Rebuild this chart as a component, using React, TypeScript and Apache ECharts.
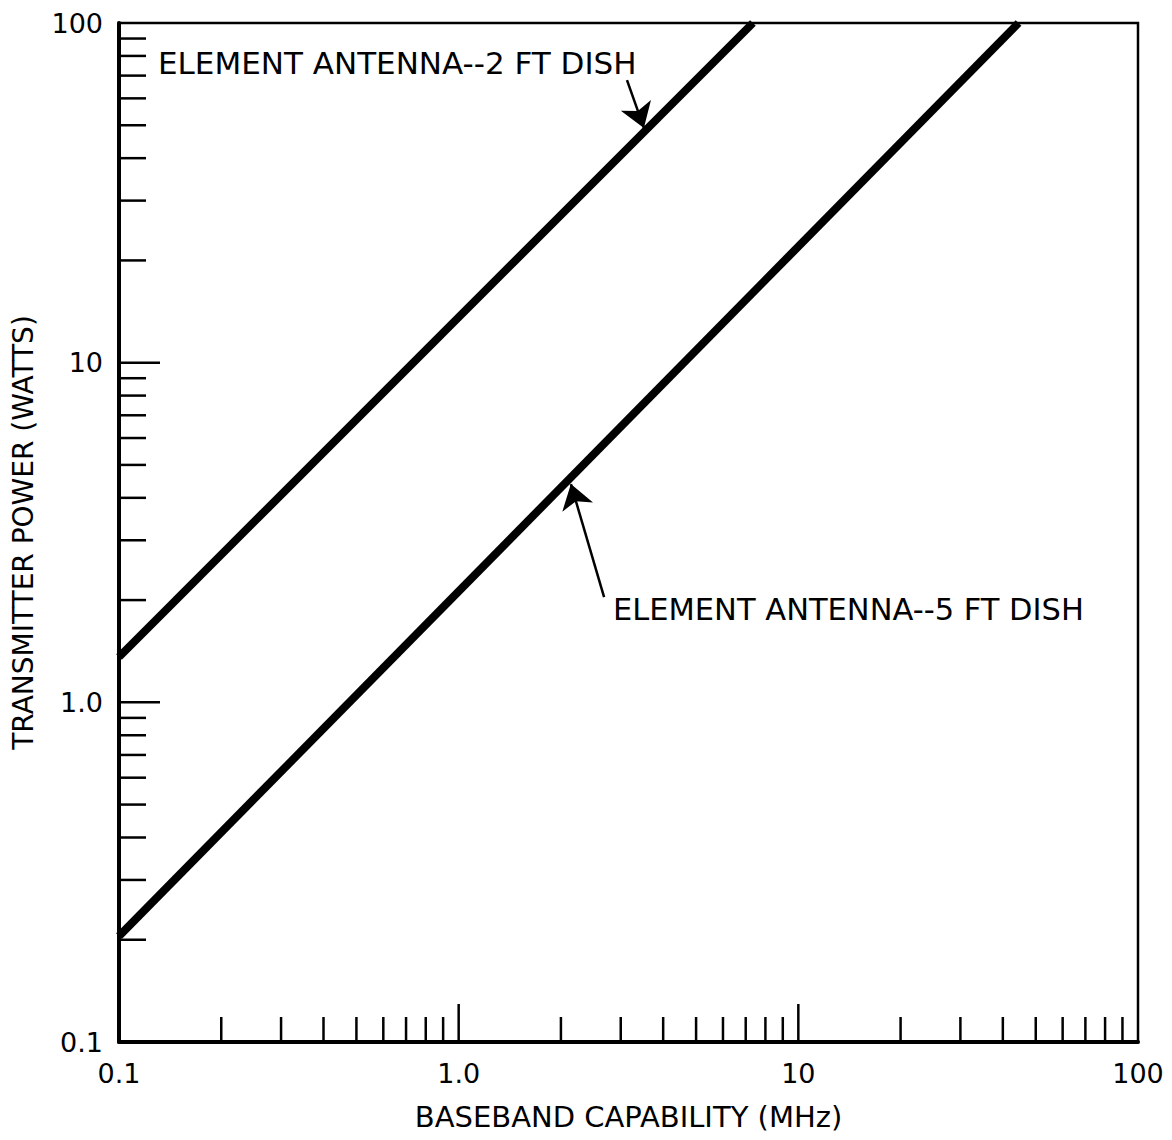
import React, { useEffect, useRef } from "react";
import * as echarts from "echarts";

// ---- data ----
const xMin = 0.1;
const xMax = 100;
const yMin = 0.1;
const yMax = 100;

// line series: [MHz, watts]
const dish2ft: [number, number][] = [
  [0.1, 1.36],
  [7.35, 100],
];
const dish5ft: [number, number][] = [
  [0.1, 0.205],
  [44.5, 100],
];

// arrows: [tail, tip] in data coords
const arrow2ft: [number, number][] = [
  [3.13, 67.9],
  [3.51, 49.1],
];
const arrow5ft: [number, number][] = [
  [2.68, 2.04],
  [2.14, 4.39],
];

const label2ft = "ELEMENT ANTENNA--2 FT DISH";
const label5ft = "ELEMENT ANTENNA--5 FT DISH";
const xTitle = "BASEBAND CAPABILITY (MHz)";
const yTitle = "TRANSMITTER POWER (WATTS)";

const minorTicks = [0.2, 0.3, 0.4, 0.5, 0.6, 0.7, 0.8, 0.9, 2, 3, 4, 5, 6, 7, 8, 9, 20, 30, 40, 50, 60, 70, 80, 90];
const majorTicks = [1, 10];

const FONT = "DejaVu Sans";

function fmt(v: number): string {
  if (Math.abs(v - 1) < 1e-9) return "1.0";
  if (Math.abs(v - 0.1) < 1e-9) return "0.1";
  return String(Math.round(v));
}

export default function App() {
  const ref = useRef<HTMLDivElement>(null);
  useEffect(() => {
    if (!ref.current) return;
    const chart = echarts.init(ref.current, undefined, { renderer: "svg" });

    const xTickData = [
      ...minorTicks.map((v) => [v, 0]),
      ...majorTicks.map((v) => [v, 1]),
    ];
    const yTickData = [
      ...minorTicks.map((v) => [v, 0]),
      ...majorTicks.map((v) => [v, 1]),
    ];

    const option: any = {
      animation: false,
      backgroundColor: "#fff",
      grid: {
        left: 119,
        top: 23,
        width: 1019,
        height: 1019,
        show: true,
        borderColor: "#000",
        borderWidth: 2.5,
        backgroundColor: "transparent",
      },
      xAxis: {
        type: "log",
        logBase: 10,
        min: xMin,
        max: xMax,
        axisLine: { show: true, onZero: false, lineStyle: { color: "#000", width: 4 } },
        axisTick: { show: false },
        splitLine: { show: false },
        minorTick: { show: false },
        axisLabel: {
          formatter: fmt,
          color: "#000",
          fontFamily: FONT,
          fontSize: 27,
          margin: 18,
          showMinLabel: true,
          showMaxLabel: true,
        },
        name: xTitle,
        nameLocation: "middle",
        nameGap: 60,
        nameTextStyle: { color: "#000", fontFamily: FONT, fontSize: 29 },
      },
      yAxis: {
        type: "log",
        logBase: 10,
        min: yMin,
        max: yMax,
        axisLine: { show: true, onZero: false, lineStyle: { color: "#000", width: 4 } },
        axisTick: { show: false },
        splitLine: { show: false },
        minorTick: { show: false },
        axisLabel: {
          formatter: fmt,
          color: "#000",
          fontFamily: FONT,
          fontSize: 27,
          margin: 16,
          showMinLabel: true,
          showMaxLabel: true,
        },
        name: yTitle,
        nameLocation: "middle",
        nameGap: 82,
        nameTextStyle: { color: "#000", fontFamily: FONT, fontSize: 28 },
      },
      series: [
        {
          type: "custom",
          name: "xticks",
          data: xTickData,
          silent: true,
          renderItem: (params: any, api: any) => {
            const v = api.value(0);
            const major = api.value(1) === 1;
            const p = api.coord([v, yMin]);
            const len = major ? 38 : 25;
            return {
              type: "line",
              shape: { x1: p[0], y1: p[1], x2: p[0], y2: p[1] - len },
              style: { stroke: "#000", lineWidth: 2.5 },
            };
          },
          z: 5,
        },
        {
          type: "custom",
          name: "yticks",
          data: yTickData,
          silent: true,
          renderItem: (params: any, api: any) => {
            const v = api.value(0);
            const major = api.value(1) === 1;
            const p = api.coord([xMin, v]);
            const len = major ? 41 : 27;
            return {
              type: "line",
              shape: { x1: p[0], y1: p[1], x2: p[0] + len, y2: p[1] },
              style: { stroke: "#000", lineWidth: 2.5 },
            };
          },
          z: 5,
        },
        {
          type: "line",
          name: "2 FT DISH",
          data: dish2ft,
          symbol: "none",
          lineStyle: { color: "#000", width: 8 },
          clip: true,
          z: 4,
        },
        {
          type: "line",
          name: "5 FT DISH",
          data: dish5ft,
          symbol: "none",
          lineStyle: { color: "#000", width: 8 },
          clip: true,
          z: 4,
        },
        {
          type: "lines",
          coordinateSystem: "cartesian2d",
          silent: true,
          symbol: ["none", "arrow"],
          symbolSize: [9, 24],
          lineStyle: { color: "#000", width: 2.5, opacity: 1 },
          data: [{ coords: arrow2ft }, { coords: arrow5ft }],
          z: 6,
        },
      ],
      graphic: [
        {
          type: "text",
          left: 158,
          top: 47,
          style: { text: label2ft, fill: "#000", font: `31px '${FONT}'` },
          z: 10,
        },
        {
          type: "text",
          left: 613,
          top: 594,
          style: { text: label5ft, fill: "#000", font: `30.5px '${FONT}'` },
          z: 10,
        },
      ],
    };
    chart.setOption(option);
    return () => chart.dispose();
  }, []);
  return (
    <div
      ref={ref}
      style={{ position: "fixed", left: 0, top: 0, width: 1172, height: 1140, background: "#fff" }}
    />
  );
}
